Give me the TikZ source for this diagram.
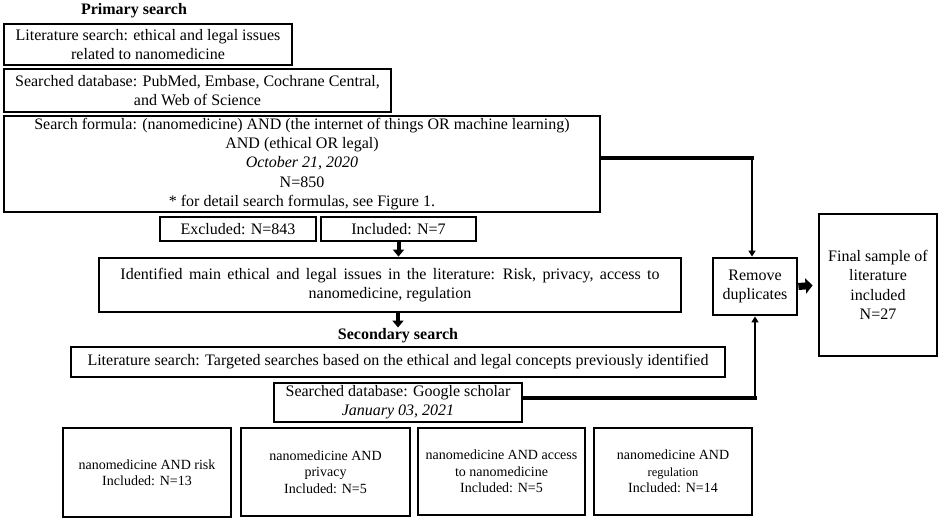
\documentclass[tikz,border=0pt]{standalone}
\usepackage{fontspec}
\setmainfont{Liberation Serif}
\usetikzlibrary{arrows.meta}
\newcommand\mainfs{\fontsize{16}{19.3}\selectfont}
\newcommand\smallfs{\fontsize{14}{16.5}\selectfont}
\begin{document}
\begin{tikzpicture}[x=1pt,y=-1pt,
  box/.style={draw, line width=2.8pt, inner sep=0pt, align=center, font=\mainfs},
  sbox/.style={draw, line width=2.8pt, inner sep=0pt, align=center, font=\smallfs},
  title/.style={inner sep=1pt, font=\fontsize{16}{19}\selectfont\bfseries},
  thickline/.style={line width=4.2pt, line cap=rect},
  thinarrow/.style={line width=2.4pt, -{Triangle[width=7pt,length=6pt]}},
  midarrow/.style={line width=4pt, -{Triangle[width=11pt,length=7pt]}},
  fatarrow/.style={line width=7pt, -{Triangle[width=15pt,length=7pt]}, shorten >=5pt}
]
\useasboundingbox (0,0) rectangle (941,521);
\fill[white] (0,0) rectangle (941,521);

\node[title] (prim) at (134,11) {Primary search};
\node[box, minimum width=288pt, minimum height=41pt] (b1) at (148,44.5)
  {Literature search: ethical and legal issues\\related to nanomedicine};
\node[box, minimum width=387pt, minimum height=43pt] (b2) at (197.5,90.5)
  {Searched database: PubMed, Embase, Cochrane Central,\\and Web of Science};
\node[box, minimum width=596pt, minimum height=96pt] (b3) at (302,164)
  {Search formula: (nanomedicine) AND (the internet of things OR machine learning)\\
   AND (ethical OR legal)\\\textit{October 21, 2020}\\N=850\\* for detail search formulas, see Figure 1.};
\node[box, minimum width=156pt, minimum height=24pt] (excl) at (238,229) {Excluded: N=843};
\node[box, minimum width=155pt, minimum height=24pt] (incl) at (398.5,229) {Included: N=7};
\node[box, minimum width=582pt, minimum height=54pt] (ident) at (390,285)
  {\spaceskip=6.4pt plus 1pt minus 1pt\relax Identified main ethical and legal issues in the literature: Risk, privacy, access to\\nanomedicine, regulation};
\node[title] (sec) at (398,336) {Secondary search};
\node[box, minimum width=654pt, minimum height=30pt] (lit2) at (398,362)
  {Literature search: Targeted searches based on the ethical and legal concepts previously identified};
\node[box, minimum width=248pt, minimum height=39pt] (google) at (398,402.5)
  {Searched database: Google scholar\\\textit{January 03, 2021}};
\node[sbox, minimum width=168pt, minimum height=89pt] (qa) at (147,472.5)
  {nanomedicine AND risk\\Included: N=13};
\node[sbox, minimum width=169pt, minimum height=88pt] (qb) at (325.5,472)
  {nanomedicine AND\\privacy\\Included: N=5};
\node[sbox, minimum width=167pt, minimum height=87pt] (qc) at (501.5,471.5)
  {nanomedicine AND access\\to nanomedicine\\Included: N=5};
\node[sbox, minimum width=158pt, minimum height=87pt] (qd) at (673,471.5)
  {nanomedicine AND\\{\fontsize{12.5}{16.5}\selectfont regulation}\\Included: N=14};
\node[box, minimum width=84pt, minimum height=57pt] (remove) at (755,286.5)
  {Remove\\duplicates};
\node[box, minimum width=118pt, minimum height=142pt] (final) at (878,285)
  {Final sample of\\literature\\included\\N=27};

\coordinate (j1) at (752,158);
\coordinate (j2) at (755,398);
\draw[thickline] (b3.east |- j1) -- (j1);
\draw[thinarrow] (j1) -- (j1 |- remove.north);
\draw[thickline] (google.east |- j2) -- (j2);
\draw[thinarrow] (j2) -- (j2 |- remove.south);
\draw[midarrow] (incl.south) -- (incl.south |- ident.north);
\draw[midarrow] (ident.south -| sec.north) -- (sec.north);
\draw[fatarrow] (remove.east) -- (final.west);
\end{tikzpicture}
\end{document}
